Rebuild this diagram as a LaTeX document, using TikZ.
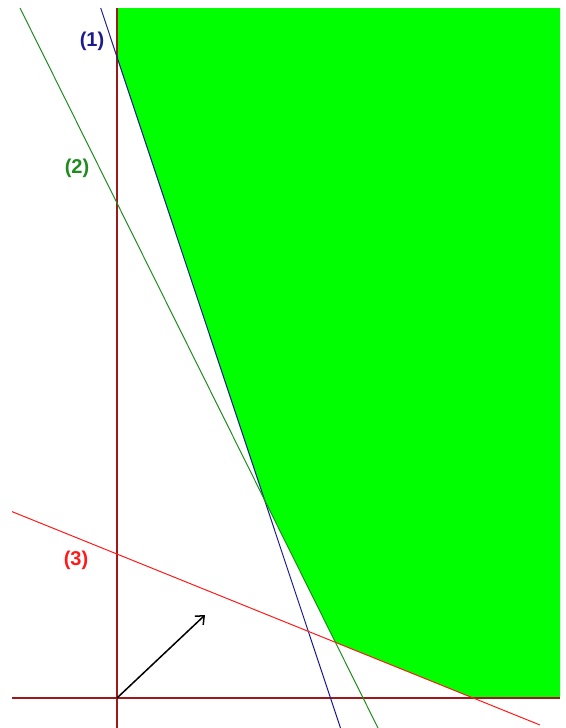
\documentclass[tikz,border=0pt]{standalone}
\usepackage{fontspec}
\setmainfont{Liberation Sans}
\usetikzlibrary{arrows.meta}
\definecolor{axisred}{HTML}{9E1A1A}
\definecolor{feasgreen}{HTML}{00FF00}
\definecolor{cone}{HTML}{1C1C8E}
\definecolor{ctwo}{HTML}{1E8C1E}
\definecolor{cthree}{HTML}{FF1A1A}

\begin{document}
\begin{tikzpicture}[x=1pt, y=-1pt,
  axis/.style={axisred, line width=1.3pt},
  bound/.style={line width=1pt},
  lbl/.style={font=\fontsize{20}{22}\selectfont\bfseries},
  arrow/.style={-{Straight Barb[length=7pt,width=12pt]}, line width=1.5pt, black},
]
\useasboundingbox (0,0) rectangle (565,728);

% axes and corners of the region
\coordinate (O) at (117,698);
\coordinate (xl) at (12,698);
\coordinate (xr) at (560,698);
\coordinate (yt) at (117,8);
\coordinate (yb) at (117,728);
\coordinate (p1) at (117,57);
\coordinate (p12) at (264.5,500);
\coordinate (p23) at (335.5,642.5);
\coordinate (p3) at (473,698);
\coordinate (tr) at (560,8);

\fill[feasgreen] (yt) -- (p1) -- (p12) -- (p23) -- (p3) -- (xr) -- (tr) -- cycle;

\draw[axis] (xl) -- (xr);
\draw[axis] (yt) -- (yb);

% constraint lines
\coordinate (a1) at (100.7,8);
\coordinate (b1) at (340.5,728);
\coordinate (a2) at (20,8);
\coordinate (b2) at (378,728);
\coordinate (a3) at (12,511.6);
\coordinate (b3) at (540,725);

\foreach \a/\b/\c in {a1/b1/cone, a2/b2/ctwo, a3/b3/cthree} {
  \draw[bound, \c] (\a) -- (\b);
}

\node[lbl, cone] (l1) at (92,41) {(1)};
\node[lbl, ctwo] (l2) at (77,168) {(2)};
\node[lbl, cthree] (l3) at (76,560) {(3)};

% objective direction
\coordinate (c) at (205,615);
\draw[arrow] (O) -- (c);

\end{tikzpicture}
\end{document}
